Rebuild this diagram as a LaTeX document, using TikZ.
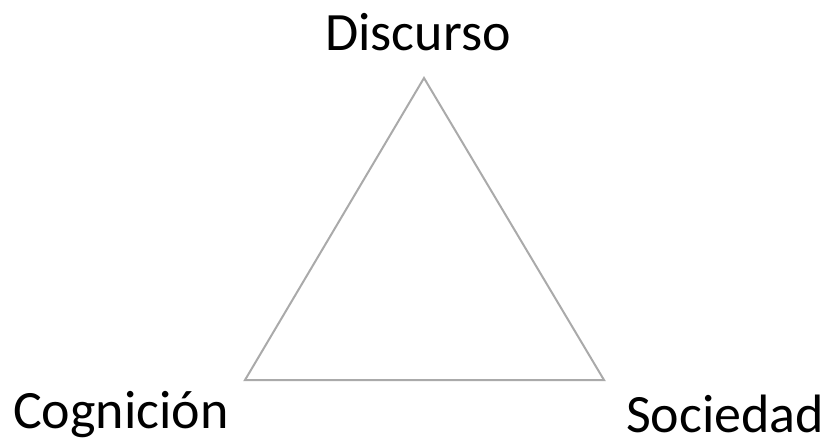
\documentclass[tikz,border=0pt]{standalone}
\usepackage{fontspec}
\setmainfont{Carlito}
\begin{document}
\begin{tikzpicture}[x=1pt,y=-1pt,
  lbl/.style={font=\fontsize{54}{60}\selectfont, inner sep=0pt, text=black, text depth=0pt},
  edge/.style={draw={rgb,255:red,170;green,170;blue,170}, line width=2pt, line join=miter}]
\useasboundingbox (0,0) rectangle (828,440);
\coordinate (top) at (424,78);
\coordinate (bl) at (245,380);
\coordinate (br) at (604,380);
\draw[edge] (top) -- (bl) -- (br) -- cycle;
\node[lbl, anchor=base] (disc) at (418,50) {Discurso};
\node[lbl, anchor=base west] (cog) at (13,428) {Cognición};
\node[lbl, anchor=base west] (soc) at (626,432) {Sociedad};
\end{tikzpicture}
\end{document}
